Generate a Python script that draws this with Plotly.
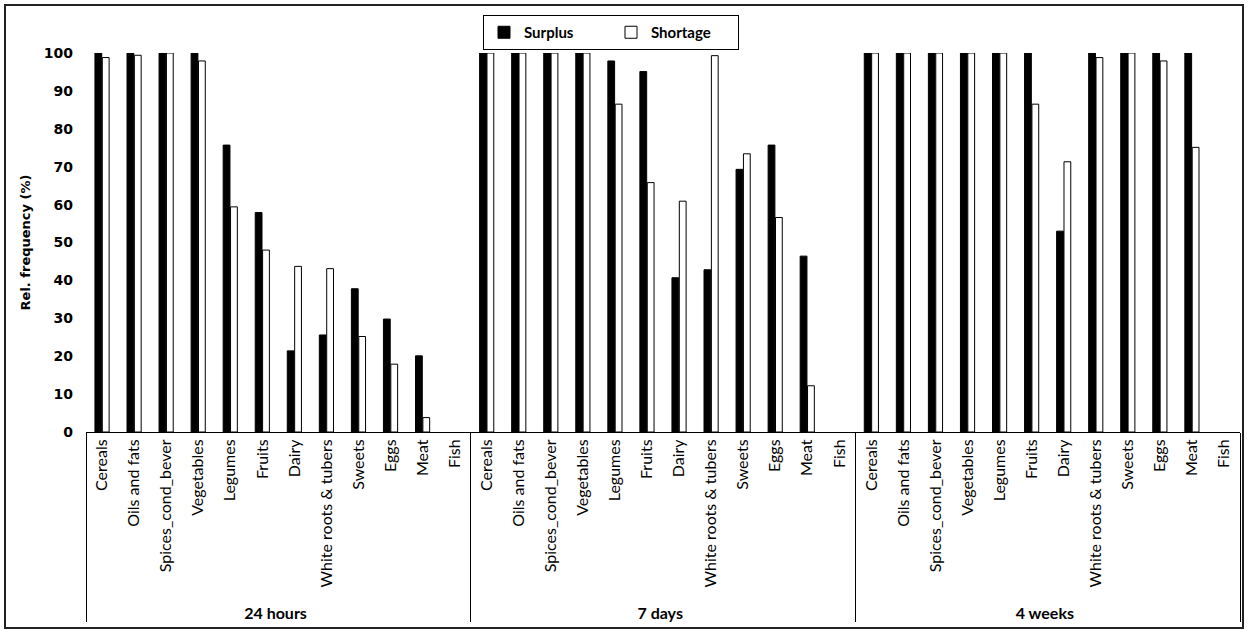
import plotly.graph_objects as go

periods = ["24 hours", "7 days", "4 weeks"]
foods = ["Cereals", "Oils and fats", "Spices_cond_bever", "Vegetables", "Legumes",
         "Fruits", "Dairy", "White roots & tubers", "Sweets", "Eggs", "Meat", "Fish"]

surplus_24h = [100, 100, 100, 100, 75.7, 57.9, 21.4, 25.6, 37.8, 29.8, 20.1, 0]
shortage_24h = [98.8, 99.4, 100, 97.9, 59.4, 48.0, 43.7, 43.1, 25.2, 17.9, 3.8, 0]
surplus_7d = [100, 100, 100, 100, 97.9, 95.1, 40.7, 42.8, 69.3, 75.7, 46.4, 0]
shortage_7d = [100, 100, 100, 100, 86.5, 65.8, 60.9, 99.3, 73.4, 56.6, 12.2, 0]
surplus_4w = [100, 100, 100, 100, 100, 100, 53.0, 100, 100, 100, 100, 0]
shortage_4w = [100, 100, 100, 100, 100, 86.5, 71.3, 98.8, 100, 97.9, 75.1, 0]

yticks = [0, 10, 20, 30, 40, 50, 60, 70, 80, 90, 100]

x_outer = ["<b>" + p + "</b>" for p in periods for _ in foods]
x_inner = foods * len(periods)
surplus = surplus_24h + surplus_7d + surplus_4w
shortage = shortage_24h + shortage_7d + shortage_4w

fig = go.Figure()
fig.add_trace(go.Bar(x=[x_outer, x_inner], y=surplus, name="Surplus",
                     marker=dict(color="black",
                                 line=dict(color="black", width=[1 if v else 0 for v in surplus]))))
fig.add_trace(go.Bar(x=[x_outer, x_inner], y=shortage, name="Shortage",
                     marker=dict(color="white",
                                 line=dict(color="black", width=[1 if v else 0 for v in shortage]))))

W, H = 1248, 633
ml, mr, mt, mb = 86, 8, 53, 201
pw, ph = W - ml - mr, H - mt - mb

def px2x(px):
    return (px - ml) / pw

def py2y(py):
    return (H - mb - py) / ph

fig.update_layout(
    width=W, height=H,
    margin=dict(l=ml, r=mr, t=mt, b=mb, autoexpand=False),
    paper_bgcolor="white", plot_bgcolor="white",
    barmode="group", bargap=0.54, bargroupgap=0.08,
    font=dict(family="Lato", color="black", size=16),
    legend=dict(orientation="h", x=px2x(611), xanchor="center", y=py2y(15), yanchor="top",
                bordercolor="black", borderwidth=1,
                font=dict(family="Lato", size=15, weight="bold"),
                itemwidth=30, entrywidth=82, tracegroupgap=0),
    xaxis=dict(type="multicategory", showline=True, linecolor="black", linewidth=1,
               tickangle=-90, ticks="", showdividers=True, dividercolor="black",
               dividerwidth=1, tickfont=dict(family="Lato", size=16),
               showgrid=False),
    yaxis=dict(range=[0, 100], tickvals=yticks, showgrid=False, zeroline=False,
               showline=False, ticks="", fixedrange=True, ticklabelstandoff=12,
               tickfont=dict(family="DejaVu Sans", size=14, weight="bold"),
               title=dict(text="Rel. frequency (%)", standoff=10,
                          font=dict(family="DejaVu Sans", size=13, weight="bold"))),
    shapes=[dict(type="rect", xref="paper", yref="paper",
                 x0=px2x(5), x1=px2x(1243), y0=py2y(628), y1=py2y(5),
                 line=dict(color="#222", width=2), layer="below")],
)

fig.write_html("out.html", config={"displayModeBar": False},
               post_script="document.body.style.margin='0';")
